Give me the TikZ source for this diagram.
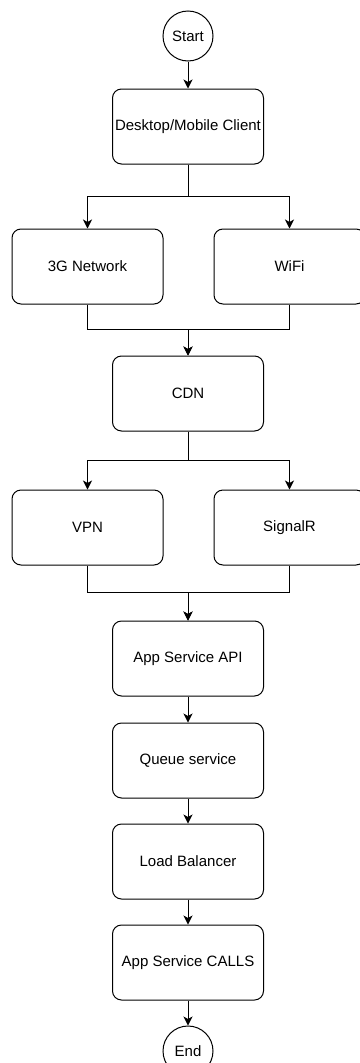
\documentclass[tikz,border=0pt]{standalone}
\usepackage{fontspec}
\setmainfont{Liberation Sans}
\usetikzlibrary{arrows.meta,positioning,calc}

\begin{document}
\begin{tikzpicture}[
      x=1pt, y=1pt,
      line width = 1pt,
      box/.style  = {draw, rounded corners=9pt, minimum width=151pt,
                     minimum height=75pt, inner sep=0pt, align=center,
                     font=\fontsize{15}{18}\selectfont},
      term/.style = {draw, circle, minimum size=50pt, inner sep=0pt,
                     font=\fontsize{15}{18}\selectfont},
      arr/.style  = {-{Stealth[length=9pt, width=9pt, inset=2.5pt]}},
    ]
    \useasboundingbox (0,0) rectangle (359,-1063);

    % ---- top ----
    \node[term] (start) at (188,-36) {Start};
    \node[box, below=27pt of start]  (client) {Desktop/Mobile Client};

    % ---- access networks ----
    \node[box, below=64pt of client, xshift=-100.5pt] (net3g) {3G Network};
    \node[box, right=50pt of net3g]                   (wifi)  {WiFi};

    \node[box, below=51pt of net3g, xshift=100.5pt]   (cdn)   {CDN};

    % ---- transport ----
    \node[box, below=58pt of cdn, xshift=-100.5pt]    (vpn)   {VPN};
    \node[box, right=50pt of vpn]                     (sigr)  {SignalR};

    % ---- backend chain ----
    \node[box, below=55pt of vpn, xshift=100.5pt]     (api)   {App Service API};
    \node[box, below=26pt of api]    (queue) {Queue service};
    \node[box, below=25pt of queue]  (lb)    {Load Balancer};
    \node[box, below=25pt of lb]     (calls) {App Service CALLS};
    \node[term, below=25pt of calls] (end)   {End};

    \draw[arr] (start) -- (client);

    \draw[arr] (client.south) -- ++(0,-32pt) -| (net3g.north);
    \draw[arr] (client.south) -- ++(0,-32pt) -| (wifi.north);

    \draw[arr] (net3g.south) -- ++(0,-25pt) -| (cdn.north);
    \draw[arr] (wifi.south)  -- ++(0,-25pt) -| (cdn.north);

    \draw[arr] (cdn.south) -- ++(0,-29pt) -| (vpn.north);
    \draw[arr] (cdn.south) -- ++(0,-29pt) -| (sigr.north);

    \draw[arr] (vpn.south)  -- ++(0,-27pt) -| (api.north);
    \draw[arr] (sigr.south) -- ++(0,-27pt) -| (api.north);

    \draw[arr] (api)   -- (queue);
    \draw[arr] (queue) -- (lb);
    \draw[arr] (lb)    -- (calls);
    \draw[arr] (calls) -- (end);
  \end{tikzpicture}
\end{document}
